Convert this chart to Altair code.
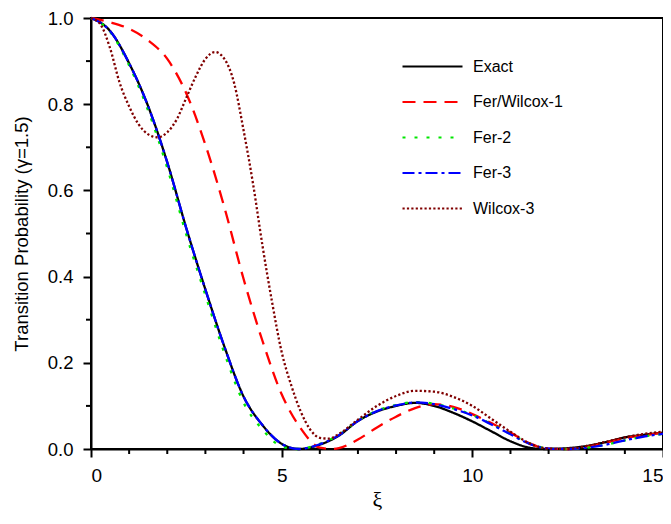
import altair as alt
import pandas as pd

series_names = ["Exact", "Fer/Wilcox-1", "Fer-2", "Fer-3", "Wilcox-3"]
series_colors = ["#000000", "#ff0000", "#00e600", "#0000ff", "#800000"]
series_dashes = [[1, 0], [13, 8], [3, 9], [12, 4, 3, 4], [2.2, 2.2]]

xi_exact = [0, 0.5, 1.0, 1.5, 2.0, 2.5, 3.0, 3.5, 4.0, 4.5, 5.0, 5.45, 6.0, 6.5, 7.0, 7.5,
            8.0, 8.5, 9.0, 9.5, 10.0, 10.5, 11.0, 11.5, 11.9, 12.5, 13.0, 13.5, 14.0, 14.5, 15.0]
p_exact = [1.0, 0.97, 0.895, 0.795, 0.665, 0.512, 0.37, 0.237, 0.122, 0.055, 0.012, 0.0, 0.01,
           0.031, 0.065, 0.087, 0.1, 0.107, 0.1, 0.084, 0.064, 0.041, 0.018, 0.003, 0.0, 0.002,
           0.007, 0.016, 0.027, 0.033, 0.038]

xi_fw1 = [0, 0.5, 1.0, 1.5, 2.0, 2.5, 3.0, 3.5, 4.0, 4.5, 5.0, 5.5, 6.0, 6.3, 6.5, 7.0, 7.5,
          8.0, 8.5, 9.0, 9.5, 10.0, 10.5, 11.0, 11.5, 12.0, 12.5, 13.0, 13.5, 14.0, 14.5, 15.0]
p_fw1 = [1.0, 0.99, 0.975, 0.948, 0.905, 0.825, 0.706, 0.56, 0.395, 0.25, 0.127, 0.048, 0.003,
         0.0, 0.002, 0.022, 0.05, 0.075, 0.095, 0.104, 0.098, 0.081, 0.06, 0.038, 0.013, 0.001,
         0.0, 0.005, 0.015, 0.025, 0.032, 0.038]

xi_fer2 = [0, 0.5, 1.0, 1.5, 2.0, 2.5, 3.0, 3.5, 4.0, 4.5, 5.0, 5.4, 6.0, 6.5, 7.0, 7.5,
           8.0, 8.5, 9.0, 9.5, 10.0, 10.5, 11.0, 11.5, 12.0, 12.5, 13.0, 13.5, 14.0, 14.5, 15.0]
p_fer2 = [1.0, 0.968, 0.89, 0.785, 0.652, 0.497, 0.357, 0.222, 0.108, 0.045, 0.006, 0.0, 0.012,
          0.033, 0.066, 0.089, 0.102, 0.109, 0.105, 0.094, 0.079, 0.058, 0.035, 0.013, 0.001,
          0.0, 0.003, 0.01, 0.02, 0.029, 0.035]

xi_fer3 = [0, 0.5, 1.0, 1.5, 2.0, 2.5, 3.0, 3.5, 4.0, 4.5, 5.0, 5.45, 6.0, 6.5, 7.0, 7.5,
           8.0, 8.5, 9.0, 9.5, 10.0, 10.5, 11.0, 11.5, 12.0, 12.5, 13.0, 13.5, 14.0, 14.5, 15.0]
p_fer3 = [1.0, 0.97, 0.895, 0.795, 0.665, 0.512, 0.37, 0.237, 0.122, 0.055, 0.012, 0.0, 0.011,
          0.032, 0.065, 0.088, 0.101, 0.108, 0.104, 0.093, 0.078, 0.057, 0.034, 0.012, 0.001,
          0.0, 0.003, 0.01, 0.02, 0.029, 0.035]

xi_w3 = [0, 0.25, 0.5, 0.75, 1.0, 1.25, 1.5, 1.75, 2.0, 2.25, 2.5, 2.75, 3.0, 3.25, 3.5, 3.75,
         4.0, 4.25, 4.5, 4.75, 5.0, 5.25, 5.5, 5.75, 6.0, 6.25, 6.5, 7.0, 7.5, 8.0, 8.5, 9.0,
         9.5, 10.0, 10.5, 11.0, 11.5, 12.0, 12.5, 13.0, 13.5, 14.0, 14.5, 15.0]
p_w3 = [1.0, 0.985, 0.93, 0.85, 0.795, 0.753, 0.73, 0.723, 0.735, 0.765, 0.815, 0.865, 0.905,
        0.921, 0.905, 0.85, 0.74, 0.615, 0.47, 0.34, 0.225, 0.148, 0.087, 0.045, 0.026, 0.024,
        0.035, 0.068, 0.1, 0.123, 0.135, 0.133, 0.121, 0.1, 0.07, 0.04, 0.013, 0.001, 0.0,
        0.007, 0.017, 0.027, 0.035, 0.04]

x_major = [0, 5, 10, 15]
x_minor = [1, 2, 3, 4, 6, 7, 8, 9, 11, 12, 13, 14]
y_major = [0.0, 0.2, 0.4, 0.6, 0.8, 1.0]
y_minor = [0.1, 0.3, 0.5, 0.7, 0.9]

rows = []
for name, xs, ps in zip(series_names,
                        [xi_exact, xi_fw1, xi_fer2, xi_fer3, xi_w3],
                        [p_exact, p_fw1, p_fer2, p_fer3, p_w3]):
    for x, p in zip(xs, ps):
        rows.append({"xi": x, "p": p, "series": name})
df = pd.DataFrame(rows)

W, H = 572, 431
FONT = "Liberation Sans"

xscale = alt.Scale(domain=[0, 15], nice=False, zero=False)
yscale = alt.Scale(domain=[0, 1], nice=False, zero=False)

legend = alt.Legend(
    title=None, orient="none", legendX=325, legendY=32,
    symbolType="M-2,0L2,0", symbolSize=900, symbolStrokeWidth=2.2,
    labelFont=FONT, labelFontSize=16, labelColor="#000000", labelOffset=24,
    rowPadding=10.5, padding=0,
)

lines = alt.Chart(df).mark_line(interpolate="monotone", strokeWidth=2.3).encode(
    x=alt.X("xi:Q", scale=xscale,
            axis=alt.Axis(title="ξ", values=x_major, format="d", tickSize=8,
                          labelPadding=9, labelFontSize=19, titleFont="Liberation Serif",
                          titleFontSize=22, titleFontWeight="normal", titlePadding=4)),
    y=alt.Y("p:Q", scale=yscale,
            axis=alt.Axis(title="Transition Probability (γ=1.5)", values=y_major,
                          format=".1f", tickSize=8, labelPadding=10, labelFontSize=18.5,
                          titleFont=FONT, titleFontSize=18.5, titleFontWeight="normal",
                          titlePadding=16)),
    color=alt.Color("series:N", scale=alt.Scale(domain=series_names, range=series_colors),
                    legend=legend),
    strokeDash=alt.StrokeDash("series:N",
                              scale=alt.Scale(domain=series_names, range=series_dashes),
                              legend=legend),
)

xminor_df = pd.DataFrame({"v": x_minor})
yminor_df = pd.DataFrame({"v": y_minor})

xticks = alt.Chart(xminor_df).mark_rule(color="black", strokeWidth=2).encode(
    x=alt.X("v:Q", scale=xscale),
    y=alt.value(H), y2=alt.value(H + 5),
)
yticks = alt.Chart(yminor_df).mark_rule(color="black", strokeWidth=2).encode(
    y=alt.Y("v:Q", scale=yscale),
    x=alt.value(0), x2=alt.value(-5),
)

chart = alt.layer(lines, xticks, yticks).properties(
    width=W, height=H,
    autosize=alt.AutoSizeParams(type="none"),
    padding={"left": 83, "top": 10, "right": 0, "bottom": 62},
).configure_view(
    stroke="black", strokeWidth=2
).configure_axis(
    domainColor="black", domainWidth=2, tickColor="black", tickWidth=2,
    labelFont=FONT, labelColor="#000000", titleColor="#000000",
    grid=False,
)

chart.save("out.html", embed_options={"renderer": "svg", "actions": False})
